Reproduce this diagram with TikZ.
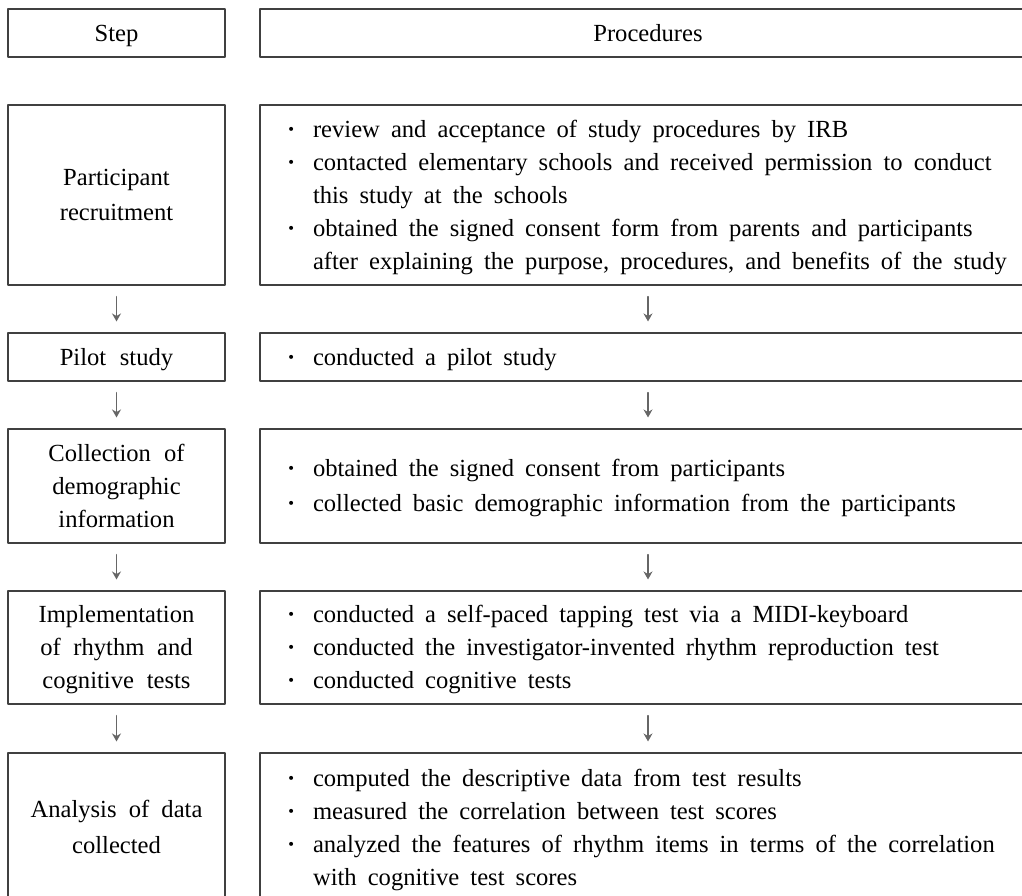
\documentclass[tikz,border=0pt]{standalone}
\usepackage{fontspec}
\setmainfont{Liberation Serif}
\usepackage{tikz}
\usetikzlibrary{arrows.meta}
\newcommand{\boxstrut}{\relax\vrule width 0pt height 12.4pt depth 4.4pt\relax}
\newcommand{\widespace}{\spaceskip=0.45em plus 0.1em minus 0.05em\relax}
\newcommand{\bul}{\makebox[15.5pt][l]{\hskip2.5pt\textbf{·}}}
\newcommand{\cont}{\hspace*{15.5pt}}
\tikzset{
  every picture/.style={line join=round, line cap=round, >=Stealth},
  boxtext/.style={execute at begin node={\widespace\boxstrut}, execute at end node=\boxstrut},
  stepbox/.style={boxtext, draw=black!75, line width=0.55pt, text width=108.5pt, inner sep=0pt, align=center},
  procbox/.style={boxtext, draw=black!75, line width=0.55pt, text width=366pt, inner xsep=11pt, inner ysep=0pt},
  flow/.style={draw=black!60, line width=0.6pt, -{Stealth[length=4pt,width=4.5pt]}},
}

\begin{document}
\begin{tikzpicture}[x=0.5pt, y=-0.5pt, font=\fontsize{12.3}{16.5}\selectfont]
\useasboundingbox (0,0) rectangle (1022,895);
\clip (0,0) rectangle (1022,895);
% header
\node[stepbox, minimum height=24pt] (hs) at (116.5,33) {Step};
\node[procbox, minimum height=24pt, align=center] (hp) at (648,33) {Procedures};
% steps
\node[stepbox, minimum height=90pt] (s1) at (116.5,195) {Participant\\recruitment};
\node[stepbox, minimum height=24pt] (s2) at (116.5,357) {Pilot study};
\node[stepbox, minimum height=57pt] (s3) at (116.5,486) {Collection of\\demographic\\information};
\node[stepbox, minimum height=56.5pt] (s4) at (116.5,647.5) {Implementation\\of rhythm and\\cognitive tests};
\node[stepbox, minimum height=74.5pt] (s5) at (116.5,827.5) {Analysis of data\\collected};
% procedures
\node[procbox, minimum height=90pt] (p1) at (648,195) {\bul review and acceptance of study procedures by IRB\\
  \bul contacted elementary schools and received permission to conduct\\
  \cont this study at the schools\\
  \bul obtained the signed consent form from parents and participants\\
  \cont after explaining the purpose, procedures, and benefits of the study};
\node[procbox, minimum height=24pt] (p2) at (648,357) {\bul conducted a pilot study};
\node[procbox, minimum height=57pt] (p3) at (648,486) {\bul obtained the signed consent from participants\\
  \bul collected basic demographic information from the participants};
\node[procbox, minimum height=56.5pt] (p4) at (648,647.5) {\bul conducted a self-paced tapping test via a MIDI-keyboard\\
  \bul conducted the investigator-invented rhythm reproduction test\\
  \bul conducted cognitive tests};
\node[procbox, minimum height=74.5pt] (p5) at (648,827.5) {\bul computed the descriptive data from test results\\
  \bul measured the correlation between test scores\\
  \bul analyzed the features of rhythm items in terms of the correlation\\
  \cont with cognitive test scores};
% arrows
\foreach \a/\b in {s1/s2,s2/s3,s3/s4,s4/s5,p1/p2,p2/p3,p3/p4,p4/p5}
  \draw[flow] ([yshift=-5.5pt]\a.south) -- ([yshift=5.5pt]\b.north);
\end{tikzpicture}
\end{document}
